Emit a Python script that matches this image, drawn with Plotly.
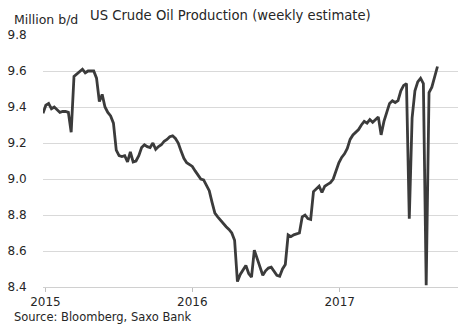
import plotly.graph_objects as go
import pandas as pd

# Weekly estimate, million b/d
production = [
    9.365, 9.41, 9.42, 9.39, 9.40, 9.385, 9.37, 9.375, 9.375, 9.37,
    9.26, 9.57, 9.585, 9.60, 9.61, 9.59, 9.60, 9.60, 9.60, 9.56,
    9.43, 9.47, 9.40, 9.37, 9.35, 9.31, 9.16, 9.13, 9.125, 9.13,
    9.095, 9.15, 9.095, 9.10, 9.13, 9.175, 9.19, 9.18, 9.175, 9.20,
    9.165, 9.18, 9.19, 9.21, 9.22, 9.235, 9.24, 9.225, 9.20, 9.155,
    9.115, 9.09, 9.08, 9.07, 9.045, 9.025, 9.00, 8.995, 8.96, 8.935,
    8.87, 8.81, 8.79, 8.77, 8.75, 8.735, 8.72, 8.70, 8.66, 8.43,
    8.47, 8.495, 8.52, 8.475, 8.455, 8.605, 8.56, 8.51, 8.465, 8.49,
    8.505, 8.51, 8.49, 8.465, 8.46, 8.50, 8.525, 8.69, 8.68, 8.69,
    8.695, 8.70, 8.79, 8.80, 8.78, 8.775, 8.93, 8.945, 8.96, 8.925,
    8.96, 8.97, 8.98, 9.00, 9.05, 9.09, 9.12, 9.14, 9.17, 9.22,
    9.245, 9.26, 9.275, 9.30, 9.32, 9.31, 9.33, 9.315, 9.33, 9.345,
    9.245, 9.32, 9.37, 9.42, 9.435, 9.425, 9.435, 9.49, 9.52, 9.53,
    8.78, 9.34, 9.49, 9.54, 9.56, 9.53, 8.41, 9.48, 9.51, 9.57,
    9.625,
]
start_date = "2014-12-26"
dates = pd.date_range(start_date, periods=len(production), freq="7D")

year_ticks = ["2015-01-01", "2016-01-01", "2017-01-01"]
year_labels = ["2015", "2016", "2017"]

title_text = "US Crude Oil Production (weekly estimate)"
unit_text = "Million b/d"
source_text = "Source: Bloomberg, Saxo Bank"

FONT = "DejaVu Sans"
TXT = "#262626"

L, R, T, B = 43, 7, 35, 43
PW = 465 - L - R
PH = 330 - T - B

fig = go.Figure()
fig.add_trace(go.Scatter(
    x=dates, y=production, mode="lines",
    line=dict(color="#3b3b3b", width=2.8),
    hoverinfo="skip",
))

fig.update_layout(
    width=465, height=330,
    margin=dict(l=L, r=R, t=T, b=B),
    paper_bgcolor="white", plot_bgcolor="white",
    showlegend=False,
    font=dict(family=FONT, size=12, color=TXT),
    xaxis=dict(
        range=["2014-12-26", "2017-10-22"],
        tickvals=year_ticks, ticktext=year_labels,
        showgrid=False, zeroline=False,
        showline=True, linecolor="#d0d0d0", linewidth=1,
        ticks="outside", ticklen=4, tickcolor="#bfbfbf", tickwidth=1,
        tickfont=dict(family=FONT, size=12, color=TXT),
    ),
    yaxis=dict(
        range=[8.4, 9.8], dtick=0.2, tick0=8.4, tickformat=".1f",
        showgrid=True, gridcolor="#d9d9d9", gridwidth=1,
        zeroline=False, showline=False,
        ticks="outside", ticklen=13, tickcolor="rgba(0,0,0,0)",
        tickfont=dict(family=FONT, size=12, color=TXT),
    ),
    annotations=[
        dict(text=unit_text, xref="paper", yref="paper",
             x=(12 - L) / PW, y=(330 - B - 19) / PH,
             xanchor="left", yanchor="middle", showarrow=False,
             font=dict(family=FONT, size=12.5, color=TXT)),
        dict(text=title_text, xref="paper", yref="paper",
             x=(88 - L) / PW, y=(330 - B - 15) / PH,
             xanchor="left", yanchor="middle", showarrow=False,
             font=dict(family=FONT, size=13.2, color=TXT)),
        dict(text=source_text, xref="paper", yref="paper",
             x=(12 - L) / PW, y=(330 - B - 317) / PH,
             xanchor="left", yanchor="middle", showarrow=False,
             font=dict(family=FONT, size=11.5, color=TXT)),
    ],
)

fig.write_html("out.html")
